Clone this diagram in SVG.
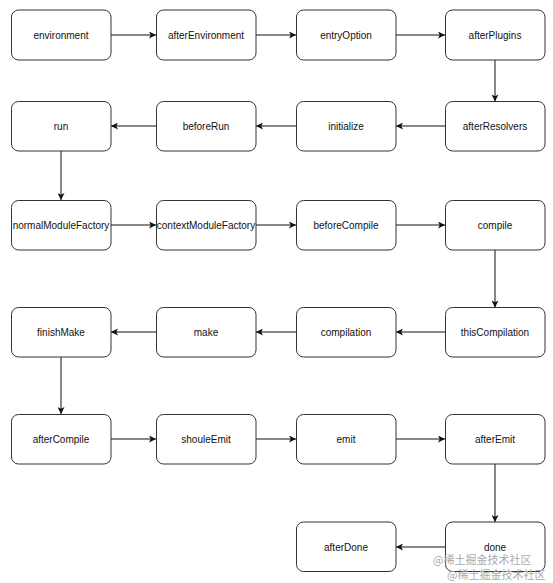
<svg xmlns="http://www.w3.org/2000/svg" width="553" height="583" viewBox="0 0 553 583">
<style>
.n rect{fill:#fff;stroke:#333;stroke-width:1}
.n text{font-family:"Liberation Sans",Arial,sans-serif;font-size:10px;fill:#111;text-anchor:middle;dominant-baseline:central}
.c line{stroke:#111;stroke-width:1;marker-end:url(#ah)}
.wm{font-family:"Noto Sans CJK SC",sans-serif;font-size:11px;fill:#aaa}
</style>
<defs>
<marker id="ah" viewBox="0 0 10 10" refX="10" refY="5" markerWidth="7" markerHeight="7" markerUnits="userSpaceOnUse" orient="auto">
<path d="M0,0 L10,5 L0,10 L2.5,5 Z" fill="#111"/>
</marker>
</defs>
<rect width="553" height="583" fill="#fff"/>
<g class="c">
<line x1="111" y1="35" x2="156" y2="35"/>
<line x1="256" y1="35" x2="296" y2="35"/>
<line x1="396" y1="35" x2="445" y2="35"/>
<line x1="495" y1="60" x2="495" y2="101.5"/>
<line x1="445" y1="126" x2="396" y2="126"/>
<line x1="296" y1="126" x2="256" y2="126"/>
<line x1="156" y1="126" x2="111" y2="126"/>
<line x1="61" y1="151" x2="61" y2="200"/>
<line x1="111" y1="225" x2="156" y2="225"/>
<line x1="256" y1="225" x2="296" y2="225"/>
<line x1="396" y1="225" x2="445" y2="225"/>
<line x1="495" y1="250" x2="495" y2="307.5"/>
<line x1="445" y1="332" x2="396" y2="332"/>
<line x1="296" y1="332" x2="256" y2="332"/>
<line x1="156" y1="332" x2="111" y2="332"/>
<line x1="61" y1="357" x2="61" y2="414"/>
<line x1="111" y1="439" x2="156" y2="439"/>
<line x1="256" y1="439" x2="296" y2="439"/>
<line x1="396" y1="439" x2="445" y2="439"/>
<line x1="495" y1="464" x2="495" y2="522"/>
<line x1="445" y1="547" x2="396" y2="547"/>
</g>
<g id="environment" class="n"><rect x="11.5" y="10" width="99.5" height="50" rx="7"/><text x="61" y="35">environment</text></g>
<g id="afterEnvironment" class="n"><rect x="156.5" y="10" width="99.5" height="50" rx="7"/><text x="206" y="35">afterEnvironment</text></g>
<g id="entryOption" class="n"><rect x="296.5" y="10" width="99.5" height="50" rx="7"/><text x="346" y="35">entryOption</text></g>
<g id="afterPlugins" class="n"><rect x="445.5" y="10" width="99.5" height="50" rx="7"/><text x="495" y="35">afterPlugins</text></g>

<g id="run" class="n"><rect x="11.5" y="101.5" width="99.5" height="49.5" rx="7"/><text x="61" y="126">run</text></g>
<g id="beforeRun" class="n"><rect x="156.5" y="101.5" width="99.5" height="49.5" rx="7"/><text x="206" y="126">beforeRun</text></g>
<g id="initialize" class="n"><rect x="296.5" y="101.5" width="99.5" height="49.5" rx="7"/><text x="346" y="126">initialize</text></g>
<g id="afterResolvers" class="n"><rect x="445.5" y="101.5" width="99.5" height="49.5" rx="7"/><text x="495" y="126">afterResolvers</text></g>

<g id="normalModuleFactory" class="n"><rect x="11.5" y="200.5" width="99.5" height="49.5" rx="7"/><text x="61" y="225">normalModuleFactory</text></g>
<g id="contextModuleFactory" class="n"><rect x="156.5" y="200.5" width="99.5" height="49.5" rx="7"/><text x="206" y="225">contextModuleFactory</text></g>
<g id="beforeCompile" class="n"><rect x="296.5" y="200.5" width="99.5" height="49.5" rx="7"/><text x="346" y="225">beforeCompile</text></g>
<g id="compile" class="n"><rect x="445.5" y="200.5" width="99.5" height="49.5" rx="7"/><text x="495" y="225">compile</text></g>

<g id="finishMake" class="n"><rect x="11.5" y="307.5" width="99.5" height="49.5" rx="7"/><text x="61" y="332">finishMake</text></g>
<g id="make" class="n"><rect x="156.5" y="307.5" width="99.5" height="49.5" rx="7"/><text x="206" y="332">make</text></g>
<g id="compilation" class="n"><rect x="296.5" y="307.5" width="99.5" height="49.5" rx="7"/><text x="346" y="332">compilation</text></g>
<g id="thisCompilation" class="n"><rect x="445.5" y="307.5" width="99.5" height="49.5" rx="7"/><text x="495" y="332">thisCompilation</text></g>

<g id="afterCompile" class="n"><rect x="11.5" y="414.5" width="99.5" height="49.5" rx="7"/><text x="61" y="439">afterCompile</text></g>
<g id="shouleEmit" class="n"><rect x="156.5" y="414.5" width="99.5" height="49.5" rx="7"/><text x="206" y="439">shouleEmit</text></g>
<g id="emit" class="n"><rect x="296.5" y="414.5" width="99.5" height="49.5" rx="7"/><text x="346" y="439">emit</text></g>
<g id="afterEmit" class="n"><rect x="445.5" y="414.5" width="99.5" height="49.5" rx="7"/><text x="495" y="439">afterEmit</text></g>

<g id="afterDone" class="n"><rect x="296.5" y="522" width="99.5" height="49.5" rx="7"/><text x="346" y="547">afterDone</text></g>
<g id="done" class="n"><rect x="445.5" y="522" width="99.5" height="49.5" rx="7"/><text x="495" y="547">done</text></g>

<text class="wm" x="433" y="564">@稀土掘金技术社区</text>
<text class="wm" x="447" y="579">@稀土掘金技术社区</text>
</svg>
